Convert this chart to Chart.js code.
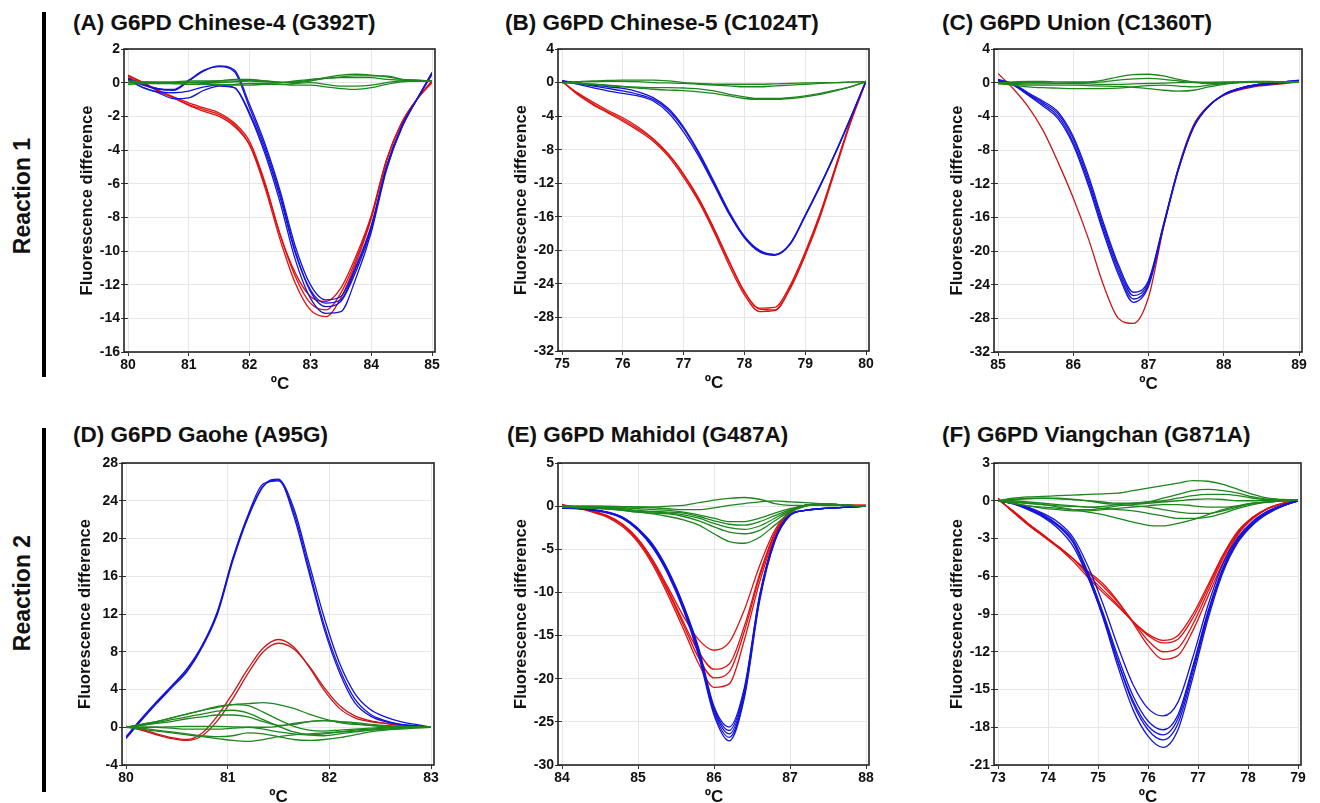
<!DOCTYPE html>
<html>
<head>
<meta charset="utf-8">
<script src="https://cdn.jsdelivr.net/npm/chart.js@4.4.1/dist/chart.umd.min.js"></script>
<style>
  body { margin: 0; background: #fff; font-family: "Liberation Sans", Arial, sans-serif; }
  #page { position: relative; width: 1320px; height: 803px; overflow: hidden; }
  canvas { position: absolute; }
  .title { position: absolute; font-weight: bold; font-size: 22.5px; line-height: 26px; color: #111; white-space: nowrap; }
  .reac { position: absolute; font-weight: bold; font-size: 23px; line-height: 26px; color: #111; white-space: nowrap;
          transform: translate(-50%, -50%) rotate(-90deg); }
  .bar { position: absolute; left: 42px; width: 4px; background: #000; }
</style>
</head>
<body>
<div id="page">
  <div class="bar" style="top:12px;height:365px"></div>
  <div class="bar" style="top:428px;height:364px"></div>
  <div class="reac" style="left:22px;top:196px">Reaction 1</div>
  <div class="reac" style="left:22px;top:593px">Reaction 2</div>
  <div class="title" style="left:73px;top:10px">(A) G6PD Chinese-4 (G392T)</div>
  <div class="title" style="left:505px;top:10px">(B) G6PD Chinese-5 (C1024T)</div>
  <div class="title" style="left:942px;top:10px">(C) G6PD Union (C1360T)</div>
  <div class="title" style="left:73px;top:422px">(D) G6PD Gaohe (A95G)</div>
  <div class="title" style="left:507px;top:422px">(E) G6PD Mahidol (G487A)</div>
  <div class="title" style="left:942px;top:422px">(F) G6PD Viangchan (G871A)</div>
</div>
<script>
/* ================= DADOS ================= */
// (A) Chinese-4
const xsA = [80, 80.25, 80.5, 80.75, 81, 81.25, 81.5, 81.75, 82, 82.25, 82.5, 82.75, 83, 83.25, 83.5, 83.75, 84, 84.25, 84.5, 84.75, 85];
const redA = [
  [0.45, 0.0, -0.5, -0.9, -1.3, -1.6, -1.9, -2.5, -3.7, -6.2, -9.3, -11.9, -13.5, -13.9, -12.8, -10.7, -8.1, -4.7, -2.4, -1.0, 0.1],
  [0.4, 0.0, -0.45, -0.85, -1.2, -1.5, -1.8, -2.4, -3.5, -5.9, -9.0, -11.5, -13.1, -13.5, -12.5, -10.5, -8.0, -4.6, -2.4, -1.0, 0.1],
  [0.3, -0.05, -0.5, -0.9, -1.35, -1.7, -2.0, -2.6, -3.7, -6.0, -9.0, -11.3, -12.7, -13.0, -12.2, -10.3, -7.9, -4.6, -2.4, -1.0, 0.0]
];
const blueA = [
  [0.2, -0.15, -0.4, -0.45, 0.1, 0.7, 1.0, 0.75, -1.3, -3.6, -6.4, -9.7, -12.0, -12.9, -12.7, -10.9, -8.5, -5.0, -2.6, -1.0, 0.6],
  [0.25, -0.1, -0.35, -0.4, 0.15, 0.75, 0.95, 0.65, -1.5, -3.8, -6.6, -10.0, -12.4, -13.3, -13.0, -11.2, -8.7, -5.1, -2.7, -1.0, 0.6],
  [0.2, -0.3, -0.6, -0.95, -0.9, -0.45, -0.2, -0.3, -1.8, -4.0, -6.8, -10.1, -12.3, -13.1, -12.9, -11.0, -8.6, -5.0, -2.6, -1.0, 0.5],
  [0.15, -0.3, -0.55, -0.6, -0.5, -0.25, -0.15, -0.3, -1.9, -4.2, -7.1, -10.5, -12.8, -13.7, -13.6, -11.6, -8.9, -5.2, -2.7, -1.0, 0.5]
];
const greenA = [
  [0, 0.05, 0.05, 0.05, 0.1, 0.1, 0.1, 0.1, 0.15, 0.1, 0.0, 0.05, 0.15, 0.3, 0.45, 0.5, 0.45, 0.35, 0.2, 0.15, 0.1],
  [0, 0, -0.05, -0.05, 0, 0, 0, 0.05, 0.1, 0.05, 0, 0.1, 0.2, 0.25, 0.3, 0.3, 0.3, 0.2, 0.15, 0.1, 0.1],
  [-0.1, -0.05, -0.05, 0, 0, -0.05, -0.1, -0.15, -0.15, -0.1, -0.1, -0.05, 0, -0.1, -0.2, -0.2, -0.15, 0.0, 0.1, 0.1, 0.1],
  [0.1, 0.05, 0, -0.05, -0.1, -0.1, -0.15, -0.1, -0.05, -0.05, -0.1, -0.15, -0.15, -0.25, -0.35, -0.4, -0.3, -0.1, 0.05, 0.1, 0.1],
  [0, 0, 0, 0, 0, 0.05, 0.1, 0.2, 0.2, 0.1, 0.05, 0.0, 0.1, 0.25, 0.35, 0.4, 0.4, 0.4, 0.2, 0.15, 0.1]
];

// (B) Chinese-5
const xsB = [75, 75.25, 75.5, 75.75, 76, 76.25, 76.5, 76.75, 77, 77.25, 77.5, 77.75, 78, 78.25, 78.5, 78.75, 79, 79.25, 79.5, 79.75, 80];
const redB = [
  [0.2, -1.4, -2.6, -3.6, -4.6, -5.7, -7.0, -8.8, -11.3, -14.2, -17.8, -21.8, -25.3, -27.3, -27.2, -24.5, -20.5, -15.7, -10.1, -4.6, 0.2],
  [0.2, -1.3, -2.5, -3.5, -4.4, -5.5, -6.8, -8.6, -11.0, -14.0, -17.5, -21.4, -25.0, -26.9, -26.8, -24.2, -20.2, -15.5, -10.0, -4.5, 0.2],
  [0.1, -1.2, -2.3, -3.3, -4.2, -5.3, -6.7, -8.5, -10.9, -13.8, -17.4, -21.3, -24.9, -27.0, -27.1, -24.6, -20.6, -15.9, -10.3, -4.7, 0.1]
];
const blueB = [
  [0.2, 0.0, -0.3, -0.5, -0.7, -1.1, -1.8, -3.1, -5.3, -8.3, -11.8, -15.4, -18.3, -20.0, -20.5, -19.2, -15.8, -12.2, -8.3, -4.2, 0.2],
  [0.2, -0.1, -0.4, -0.7, -1.0, -1.4, -2.0, -3.3, -5.5, -8.5, -12.0, -15.6, -18.4, -20.1, -20.5, -19.3, -15.9, -12.3, -8.4, -4.2, 0.2],
  [0.2, -0.2, -0.6, -1.0, -1.3, -1.6, -2.2, -3.6, -5.9, -8.8, -12.2, -15.7, -18.5, -20.2, -20.6, -19.3, -15.9, -12.2, -8.3, -4.1, 0.2]
];
const greenB = [
  [0, 0.1, 0.2, 0.25, 0.3, 0.3, 0.3, 0.2, 0.0, -0.1, -0.2, -0.2, -0.2, -0.2, -0.15, -0.1, -0.05, 0, 0, 0.05, 0.1],
  [0, -0.1, -0.2, -0.35, -0.5, -0.65, -0.8, -0.9, -0.95, -1.1, -1.3, -1.6, -1.9, -2.0, -2.0, -1.9, -1.7, -1.4, -1.0, -0.5, 0.1],
  [0, -0.1, -0.2, -0.3, -0.45, -0.55, -0.6, -0.6, -0.65, -0.75, -1.0, -1.4, -1.7, -1.9, -1.9, -1.8, -1.6, -1.3, -0.9, -0.5, 0.1],
  [0, 0.05, 0.1, 0.15, 0.15, 0.1, 0.0, -0.05, -0.1, -0.2, -0.3, -0.4, -0.5, -0.5, -0.4, -0.3, -0.2, -0.1, 0, 0.05, 0.1]
];

// (C) Union
const xsC = [85, 85.2, 85.4, 85.6, 85.8, 86, 86.2, 86.4, 86.6, 86.8, 87, 87.2, 87.4, 87.6, 87.8, 88, 88.2, 88.4, 88.6, 88.8, 89];
const redC = [
  [1.1, -0.7, -2.85, -5.7, -9.5, -13.7, -18.5, -24.0, -28.0, -28.6, -25.5, -17.2, -10.0, -5.0, -2.7, -1.5, -0.9, -0.5, -0.3, -0.1, 0.1]
];
const blueC = [
  [0.4, -0.1, -1.2, -2.2, -3.5, -6.4, -11.0, -16.6, -21.6, -24.9, -23.5, -16.8, -10.1, -5.2, -2.8, -1.5, -0.8, -0.4, -0.2, 0.0, 0.2],
  [0.3, -0.2, -1.3, -2.4, -3.7, -6.7, -11.4, -17.0, -22.0, -25.3, -23.7, -16.9, -10.2, -5.2, -2.8, -1.4, -0.7, -0.3, -0.1, 0.1, 0.2],
  [0.3, -0.2, -1.4, -2.6, -4.0, -7.1, -11.8, -17.4, -22.4, -25.7, -24.0, -17.0, -10.2, -5.3, -2.8, -1.4, -0.7, -0.3, -0.1, 0.1, 0.3],
  [0.2, -0.3, -1.5, -2.8, -4.3, -7.4, -12.2, -17.8, -22.8, -26.1, -24.2, -17.1, -10.3, -5.3, -2.8, -1.4, -0.7, -0.3, -0.1, 0.1, 0.2]
];
const greenC = [
  [0, 0.1, 0.15, 0.15, 0.1, 0.1, 0.1, 0.3, 0.7, 0.95, 1.0, 0.8, 0.4, 0.1, 0.0, 0.05, 0.1, 0.15, 0.15, 0.1, 0.1],
  [0, 0, 0, 0, -0.05, 0, 0, 0.1, 0.3, 0.45, 0.5, 0.4, 0.2, 0.0, -0.1, -0.05, 0.05, 0.1, 0.1, 0.1, 0.1],
  [-0.1, -0.2, -0.3, -0.3, -0.3, -0.3, -0.35, -0.4, -0.45, -0.55, -0.7, -0.9, -1.0, -0.9, -0.5, -0.2, 0, 0.1, 0.1, 0.1, 0.1],
  [-0.1, -0.3, -0.5, -0.6, -0.65, -0.7, -0.7, -0.7, -0.65, -0.5, -0.35, -0.3, -0.4, -0.5, -0.3, -0.1, 0, 0.05, 0.1, 0.1, 0.1],
  [0, -0.1, -0.15, -0.15, -0.1, -0.1, -0.15, -0.2, -0.2, -0.15, -0.1, -0.05, 0.0, 0.05, 0.05, 0.05, 0.05, 0.1, 0.1, 0.1, 0.1]
];

// (D) Gaohe
const xsD = [80, 80.15, 80.3, 80.45, 80.6, 80.75, 80.9, 81.05, 81.2, 81.35, 81.5, 81.65, 81.8, 81.95, 82.1, 82.25, 82.4, 82.55, 82.7, 82.85, 83];
const redD = [
  [0.1, -0.2, -0.7, -1.1, -1.3, -0.6, 1.2, 3.6, 6.2, 8.4, 9.3, 8.5, 6.4, 3.9, 2.0, 1.0, 0.6, 0.4, 0.2, 0.1, 0.0],
  [0.1, -0.3, -0.8, -1.2, -1.4, -0.9, 0.7, 3.0, 5.7, 8.0, 8.9, 8.3, 6.5, 4.2, 2.3, 1.2, 0.7, 0.4, 0.2, 0.1, 0.0]
];
const blueD = [
  [-1.1, 0.8, 2.6, 4.3, 6.0, 8.6, 12.2, 17.8, 22.3, 25.6, 26.3, 22.4, 16.4, 10.4, 5.8, 2.6, 1.2, 0.6, 0.3, 0.15, 0.0],
  [-1.0, 0.9, 2.7, 4.4, 6.2, 8.7, 12.3, 17.9, 22.5, 25.8, 26.1, 22.8, 16.8, 10.8, 6.2, 3.0, 1.4, 0.7, 0.3, 0.15, 0.0],
  [-1.2, 0.7, 2.5, 4.2, 5.9, 8.5, 12.0, 17.6, 22.2, 25.5, 26.2, 23.2, 17.4, 11.6, 6.8, 3.6, 1.9, 1.1, 0.6, 0.3, 0.0]
];
const greenD = [
  [0, 0.3, 0.6, 1.0, 1.4, 1.8, 2.1, 2.4, 2.5, 2.6, 2.4, 2.0, 1.4, 0.9, 0.5, 0.3, 0.2, 0.1, 0.1, 0.05, 0],
  [0, 0.3, 0.6, 1.0, 1.4, 1.8, 2.2, 2.4, 2.3, 1.6, 0.8, 0.1, -0.3, -0.4, -0.3, -0.2, -0.1, 0, 0, 0, 0],
  [0, 0.2, 0.5, 0.8, 1.1, 1.4, 1.7, 1.8, 1.5, 0.8, 0.1, -0.5, -0.8, -0.9, -0.7, -0.5, -0.3, -0.2, -0.1, 0, 0],
  [0, 0.2, 0.4, 0.6, 0.9, 1.1, 1.3, 1.3, 1.1, 0.6, 0.2, 0.3, 0.6, 0.7, 0.6, 0.4, 0.2, 0.1, 0.05, 0, 0],
  [0, -0.2, -0.4, -0.6, -0.8, -1.0, -1.2, -1.4, -1.5, -1.3, -1.0, -0.8, -0.7, -0.6, -0.5, -0.4, -0.3, -0.2, -0.1, -0.05, 0],
  [0, -0.1, -0.3, -0.5, -0.7, -0.9, -1.0, -0.9, -0.6, -0.7, -1.0, -1.3, -1.4, -1.3, -1.1, -0.8, -0.5, -0.3, -0.2, -0.1, 0],
  [0, 0, 0, -0.1, -0.2, -0.2, -0.2, -0.1, 0, -0.2, -0.5, -0.7, -0.8, -0.7, -0.5, -0.3, -0.2, -0.1, 0, 0, 0],
  [0, 0, 0, 0.05, 0.1, 0.1, 0.1, 0.05, 0, 0, 0.1, 0.4, 0.6, 0.7, 0.6, 0.5, 0.3, 0.2, 0.1, 0.05, 0]
];

// (E) Mahidol
const xsE = [84, 84.2, 84.4, 84.6, 84.8, 85, 85.2, 85.4, 85.6, 85.8, 86, 86.2, 86.4, 86.6, 86.8, 87, 87.2, 87.4, 87.6, 87.8, 88];
const redE = [
  [0.2, -0.2, -0.7, -1.3, -2.4, -4.2, -6.9, -10.4, -14.3, -18.3, -21.0, -20.6, -15.5, -8.8, -3.6, -0.8, 0.1, 0.2, 0.15, 0.1, 0.1],
  [0.1, -0.2, -0.6, -1.2, -2.2, -4.0, -6.6, -10.0, -13.8, -17.6, -19.9, -19.2, -14.5, -8.2, -3.3, -0.7, 0.1, 0.2, 0.15, 0.1, 0.1],
  [0.1, -0.15, -0.6, -1.2, -2.2, -3.9, -6.5, -9.8, -13.5, -16.9, -18.9, -18.3, -13.9, -7.9, -3.1, -0.7, 0.1, 0.2, 0.15, 0.1, 0.1],
  [0.1, -0.15, -0.55, -1.1, -2.1, -3.8, -6.3, -9.5, -12.8, -15.5, -16.7, -15.8, -12.0, -6.9, -2.8, -0.6, 0.1, 0.2, 0.15, 0.1, 0.1]
];
const blueE = [
  [-0.2, -0.25, -0.4, -0.7, -1.3, -2.6, -4.5, -7.5, -11.5, -16.5, -23.2, -25.6, -21.0, -10.3, -3.8, -1.0, -0.5, -0.3, -0.2, -0.1, 0.0],
  [-0.2, -0.25, -0.4, -0.7, -1.3, -2.6, -4.6, -7.6, -11.6, -16.7, -23.4, -26.0, -21.3, -10.5, -3.9, -1.0, -0.5, -0.3, -0.2, -0.1, 0.0],
  [-0.2, -0.25, -0.4, -0.75, -1.35, -2.7, -4.7, -7.7, -11.8, -16.9, -23.6, -26.4, -21.6, -10.6, -3.9, -1.0, -0.5, -0.3, -0.2, -0.1, 0.0],
  [-0.2, -0.25, -0.45, -0.75, -1.4, -2.75, -4.8, -7.8, -11.9, -17.1, -23.9, -26.8, -21.9, -10.8, -4.0, -1.1, -0.5, -0.3, -0.2, -0.1, 0.0],
  [-0.25, -0.3, -0.45, -0.8, -1.45, -2.8, -4.9, -8.0, -12.1, -17.4, -24.2, -27.2, -22.2, -11.0, -4.1, -1.1, -0.5, -0.3, -0.2, -0.1, 0.0]
];
const greenE = [
  [0, 0, 0, -0.05, -0.1, -0.1, -0.1, 0.0, 0.1, 0.4, 0.7, 0.9, 1.0, 0.8, 0.3, 0.1, 0.1, 0.1, 0.05, 0.05, 0.05],
  [0, 0, 0, 0, -0.05, -0.1, -0.2, -0.3, -0.4, -0.4, -0.2, 0.1, 0.3, 0.5, 0.6, 0.5, 0.4, 0.3, 0.2, 0.1, 0.05],
  [-0.1, -0.1, -0.1, -0.15, -0.2, -0.3, -0.4, -0.5, -0.7, -1.0, -1.4, -1.8, -1.8, -1.4, -0.8, -0.3, 0.1, 0.3, 0.2, 0.1, 0.05],
  [-0.1, -0.1, -0.15, -0.2, -0.3, -0.5, -0.6, -0.7, -0.8, -1.2, -1.7, -2.1, -2.2, -1.8, -1.1, -0.4, 0.1, 0.3, 0.2, 0.1, 0.05],
  [-0.1, -0.15, -0.2, -0.3, -0.4, -0.6, -0.7, -0.8, -1.0, -1.4, -2.0, -2.5, -2.7, -2.3, -1.4, -0.5, 0.1, 0.3, 0.2, 0.1, 0.05],
  [-0.1, -0.15, -0.2, -0.3, -0.5, -0.7, -0.8, -0.9, -1.2, -1.7, -2.4, -3.0, -3.2, -2.8, -1.7, -0.6, 0.0, 0.2, 0.2, 0.1, 0.05],
  [-0.1, -0.2, -0.25, -0.35, -0.5, -0.7, -0.9, -1.2, -1.6, -2.2, -3.2, -4.1, -4.3, -3.6, -2.2, -0.8, 0.0, 0.2, 0.2, 0.1, 0.05]
];

// (F) Viangchan
const xsF = [73, 73.3, 73.6, 73.9, 74.2, 74.5, 74.8, 75.1, 75.4, 75.7, 76, 76.3, 76.6, 76.9, 77.2, 77.5, 77.8, 78.1, 78.4, 78.7, 79];
const redF = [
  [0.2, -0.9, -1.9, -2.8, -3.7, -4.6, -5.6, -6.6, -8.0, -9.7, -11.5, -12.6, -12.3, -10.3, -7.6, -4.9, -2.7, -1.4, -0.6, -0.2, 0],
  [0.2, -0.9, -1.9, -2.8, -3.7, -4.6, -5.7, -6.8, -8.1, -9.6, -11.1, -12.0, -11.7, -9.8, -7.2, -4.6, -2.6, -1.4, -0.6, -0.2, 0],
  [0.1, -0.8, -1.8, -2.7, -3.6, -4.6, -5.9, -7.1, -8.3, -9.6, -10.7, -11.3, -11.0, -9.3, -6.9, -4.4, -2.5, -1.3, -0.6, -0.2, 0],
  [0.1, -0.8, -1.8, -2.7, -3.7, -4.8, -6.1, -7.3, -8.4, -9.6, -10.6, -11.1, -10.7, -9.0, -6.7, -4.3, -2.4, -1.3, -0.6, -0.2, 0]
];
const blueF = [
  [0, -0.2, -0.6, -1.2, -2.0, -3.3, -6.0, -9.3, -13.2, -16.6, -18.7, -19.6, -18.2, -14.0, -9.4, -5.7, -3.3, -1.9, -1.0, -0.4, 0],
  [0, -0.2, -0.6, -1.1, -1.9, -3.1, -5.7, -9.0, -12.8, -16.1, -18.2, -19.0, -17.7, -13.6, -9.1, -5.5, -3.2, -1.8, -1.0, -0.4, 0],
  [0, -0.25, -0.7, -1.3, -2.2, -3.6, -6.1, -9.2, -12.8, -15.9, -17.9, -18.6, -17.3, -13.3, -8.9, -5.4, -3.1, -1.8, -0.9, -0.4, 0],
  [0, -0.2, -0.6, -1.2, -2.0, -3.3, -5.8, -8.9, -12.4, -15.5, -17.5, -18.2, -17.0, -13.1, -8.8, -5.3, -3.0, -1.7, -0.9, -0.4, 0],
  [0, -0.2, -0.5, -1.0, -1.7, -2.9, -5.2, -8.2, -11.6, -14.6, -16.5, -17.1, -16.0, -12.4, -8.3, -5.0, -2.9, -1.6, -0.8, -0.3, 0]
];
const greenF = [
  [0, 0.2, 0.3, 0.35, 0.4, 0.45, 0.5, 0.55, 0.6, 0.8, 1.0, 1.2, 1.4, 1.6, 1.55, 1.3, 0.9, 0.5, 0.2, 0.1, 0.05],
  [0, 0.1, 0.2, 0.2, 0.15, 0.1, 0.0, -0.1, -0.2, -0.2, -0.1, 0.2, 0.5, 0.8, 0.9, 0.8, 0.6, 0.3, 0.1, 0.05, 0.05],
  [0, -0.1, -0.2, -0.3, -0.4, -0.45, -0.5, -0.45, -0.3, -0.2, -0.1, 0.0, 0.2, 0.4, 0.5, 0.5, 0.4, 0.2, 0.1, 0.05, 0.05],
  [0, -0.2, -0.4, -0.5, -0.6, -0.7, -0.7, -0.6, -0.4, -0.3, -0.2, -0.1, 0.0, 0.1, 0.15, 0.1, 0.0, 0.0, 0.0, 0.0, 0.05],
  [0, -0.2, -0.4, -0.6, -0.7, -0.8, -0.8, -0.7, -0.6, -0.5, -0.4, -0.3, -0.3, -0.4, -0.5, -0.5, -0.4, -0.2, -0.1, 0.0, 0.05],
  [0, 0.1, 0.15, 0.2, 0.2, 0.1, 0.0, -0.2, -0.3, -0.4, -0.5, -0.7, -0.9, -1.0, -1.0, -0.8, -0.5, -0.2, -0.1, 0.0, 0.05],
  [0, 0.0, -0.1, -0.2, -0.3, -0.4, -0.5, -0.6, -0.7, -0.8, -1.0, -1.2, -1.4, -1.4, -1.3, -1.0, -0.6, -0.3, -0.1, 0.0, 0.05],
  [0, -0.1, -0.2, -0.3, -0.5, -0.7, -0.9, -1.1, -1.4, -1.7, -1.95, -2.0, -1.8, -1.5, -1.1, -0.7, -0.4, -0.2, -0.1, 0.0, 0.05]
];

/* ================= CORES ================= */
const AZUL = "#1414d8";
const VERMELHO = "#e01010";
const VERMELHO_ESC = "#c81818";
const VERDE = "#1e861e";

/* ================= MOLDURA ================= */
const moldura = {
  id: "moldura",
  afterDraw(chart) {
    const { ctx, chartArea: a } = chart;
    ctx.save();
    ctx.strokeStyle = "#222";
    ctx.lineWidth = 1.6;
    ctx.strokeRect(a.left - 4, a.top, a.right - a.left + 7, a.bottom - a.top);
    ctx.restore();
  }
};

/* ================= GRÁFICOS ================= */
function criarPainel(area, xs, grupos, xMin, xMax, yMin, yMax, yStep) {

  const canvas = document.createElement("canvas");
  const w = area.R - area.L + 62;
  const h = area.B - area.T + 55;
  canvas.width = w;
  canvas.height = h;
  canvas.style.left = (area.L - 50) + "px";
  canvas.style.top = (area.T - 12) + "px";
  canvas.style.width = w + "px";
  canvas.style.height = h + "px";
  document.getElementById("page").appendChild(canvas);

  const datasets = [];
  grupos.forEach(g => {
    g.series.forEach(s => {
      datasets.push({
        data: xs.map((x, i) => ({ x: x, y: s[i] })),
        borderColor: g.cor,
        borderWidth: 1.3,
        pointRadius: 0,
        cubicInterpolationMode: "monotone",
        fill: false
      });
    });
  });

  const fonteTick = { family: "'Liberation Sans', Arial", weight: "bold", size: 14 };

  new Chart(canvas, {
    type: "line",
    data: { datasets: datasets },
    plugins: [moldura],
    options: {
      responsive: false,
      animation: false,
      layout: { padding: { top: 12, right: 12, left: 0, bottom: 0 } },
      plugins: { legend: { display: false }, tooltip: { enabled: false } },
      scales: {
        x: {
          type: "linear",
          min: xMin, max: xMax,
          afterFit: s => { s.height = 43; },
          ticks: { stepSize: 1, color: "#111", font: fonteTick, padding: 1, maxRotation: 0 },
          grid: { color: "#e6e6e6", tickColor: "#333", tickLength: 4 },
          border: { display: false },
          title: { display: true, text: "ºC", color: "#111", padding: 0,
                   font: { family: "'Liberation Sans', Arial", weight: "bold", size: 17 } }
        },
        y: {
          min: yMin, max: yMax,
          afterFit: s => { s.width = 50; },
          ticks: { stepSize: yStep, color: "#111", font: fonteTick, padding: 1 },
          grid: { color: "#e6e6e6", tickColor: "#333", tickLength: 7 },
          border: { display: false },
          title: { display: true, text: "Fluorescence difference", color: "#111", padding: 0,
                   font: { family: "'Liberation Sans', Arial", weight: "bold", size: 16.5 } }
        }
      }
    }
  });
}

/* ================= INICIALIZA ================= */
criarPainel({ L: 128, T: 49, R: 432, B: 352 }, xsA,
  [{ cor: VERDE, series: greenA }, { cor: AZUL, series: blueA }, { cor: VERMELHO, series: redA }],
  80, 85, -16, 2, 2);
criarPainel({ L: 562, T: 49, R: 866, B: 351 }, xsB,
  [{ cor: VERDE, series: greenB }, { cor: AZUL, series: blueB }, { cor: VERMELHO, series: redB }],
  75, 80, -32, 4, 4);
criarPainel({ L: 998, T: 49, R: 1299, B: 352 }, xsC,
  [{ cor: VERDE, series: greenC }, { cor: AZUL, series: blueC }, { cor: VERMELHO_ESC, series: redC }],
  85, 89, -32, 4, 4);
criarPainel({ L: 126, T: 463, R: 431, B: 765 }, xsD,
  [{ cor: VERDE, series: greenD }, { cor: AZUL, series: blueD }, { cor: VERMELHO_ESC, series: redD }],
  80, 83, -4, 28, 4);
criarPainel({ L: 562, T: 463, R: 866, B: 765 }, xsE,
  [{ cor: VERDE, series: greenE }, { cor: AZUL, series: blueE }, { cor: VERMELHO, series: redE }],
  84, 88, -30, 5, 5);
criarPainel({ L: 998, T: 463, R: 1298, B: 765 }, xsF,
  [{ cor: VERDE, series: greenF }, { cor: AZUL, series: blueF }, { cor: VERMELHO, series: redF }],
  73, 79, -21, 3, 3);
</script>
</body>
</html>
